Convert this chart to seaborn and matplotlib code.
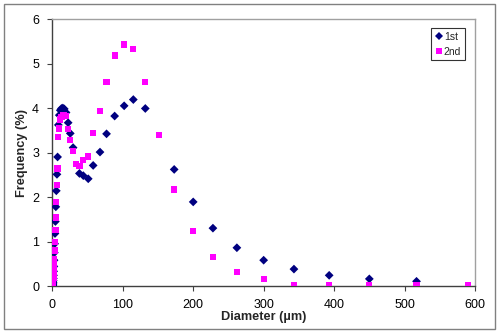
import matplotlib
matplotlib.use("Agg")
import matplotlib.pyplot as plt
import seaborn as sns
import pandas as pd
from matplotlib.patches import Rectangle

# Particle size bins (µm) and frequencies (%)
diam_1st = [0.64, 0.74, 0.85, 0.97, 1.1, 1.3, 1.5, 1.7, 1.9, 2.2, 2.5, 2.9, 3.3, 3.8,
            4.4, 5.0, 5.7, 6.6, 7.5, 8.6, 9.9, 11.3, 13.0, 15.0, 17.0, 19.5, 22.5,
            25.5, 29.5, 38.5, 44.0, 51.0, 58.0, 67.7, 77.0, 88.5, 102.0, 115.0,
            132.0, 173.0, 200.0, 228.0, 262.0, 300.0, 343.0, 393.0, 450.0, 517.0]
freq_1st = [0.01, 0.02, 0.03, 0.05, 0.08, 0.12, 0.17, 0.24, 0.33, 0.44, 0.58, 0.75, 0.95, 1.18,
            1.45, 1.78, 2.14, 2.51, 2.90, 3.62, 3.84, 3.95, 3.99, 4.00, 3.98, 3.90, 3.67,
            3.43, 3.11, 2.53, 2.48, 2.41, 2.71, 3.01, 3.42, 3.82, 4.05, 4.19,
            3.99, 2.62, 1.89, 1.30, 0.86, 0.58, 0.38, 0.24, 0.16, 0.105]

diam_2nd = [0.64, 0.74, 0.85, 0.97, 1.1, 1.3, 1.5, 1.7, 1.9, 2.2, 2.5, 2.9, 3.3, 3.8,
            4.4, 5.0, 5.7, 6.6, 7.5, 8.6, 9.9, 11.3, 13.0, 15.0, 17.0, 19.5, 22.5,
            25.5, 29.5, 34.0, 38.5, 44.0, 51.0, 58.0, 67.7, 77.0, 88.5, 102.0, 115.0,
            132.0, 152.0, 173.0, 200.0, 228.0, 262.0, 300.0, 343.0, 393.0, 450.0, 517.0, 590.0]
freq_2nd = [0.01, 0.02, 0.03, 0.05, 0.07, 0.10, 0.14, 0.19, 0.26, 0.35, 0.46, 0.60, 0.80, 0.99,
            1.25, 1.54, 1.89, 2.27, 2.64, 3.35, 3.54, 3.74, 3.80, 3.84, 3.85, 3.82, 3.52,
            3.29, 3.03, 2.75, 2.69, 2.83, 2.91, 3.43, 3.94, 4.58, 5.18, 5.43, 5.33,
            4.58, 3.39, 2.17, 1.24, 0.65, 0.32, 0.15, 0.01, 0.01, 0.01, 0.01, 0.01]

series_names = ["1st", "2nd"]

df = pd.concat([
    pd.DataFrame({"Diameter": diam_1st, "Frequency": freq_1st, "Series": series_names[0]}),
    pd.DataFrame({"Diameter": diam_2nd, "Frequency": freq_2nd, "Series": series_names[1]}),
], ignore_index=True)

sns.set_theme(style="white")
plt.rcParams["font.family"] = ["Liberation Sans", "DejaVu Sans"]

fig = plt.figure(figsize=(5, 3.34), dpi=100)
fig.patch.set_facecolor("white")
ax = fig.add_axes([0.1046, 0.1437, 0.8454, 0.7993])

sns.scatterplot(data=df, x="Diameter", y="Frequency", hue="Series", style="Series",
                palette={"1st": "#000080", "2nd": "#FF00FF"},
                markers={"1st": "D", "2nd": "s"},
                hue_order=series_names, style_order=series_names,
                s=20, linewidth=0, ax=ax, zorder=3)

ax.set_xlim(0, 600)
ax.set_ylim(0, 6)
ax.set_xticks(range(0, 601, 100))
ax.set_yticks(range(0, 7, 1))
ax.tick_params(axis="both", which="both", direction="out", length=3.5, width=0.8,
               color="#404040", labelsize=9, colors="black",
               bottom=True, left=True)
ax.tick_params(axis="x", pad=6)
ax.tick_params(axis="y", pad=6)
for side in ["left", "bottom"]:
    ax.spines[side].set_color("#404040")
    ax.spines[side].set_linewidth(1.0)
for side in ["top", "right"]:
    ax.spines[side].set_color("#A0A0A0")
    ax.spines[side].set_linewidth(1.0)

ax.set_xlabel("Diameter (µm)", fontsize=9.2, fontweight="bold", labelpad=0)
ax.set_ylabel("Frequency (%)", fontsize=9.2, fontweight="bold", labelpad=3)

leg = ax.legend(loc="upper right", bbox_to_anchor=(0.976, 0.965), fontsize=7.5,
                frameon=True, fancybox=False, handletextpad=0.15, handlelength=0.7,
                borderpad=0.35, labelspacing=0.45, borderaxespad=0, markerscale=1.0)
leg.get_frame().set_edgecolor("black")
leg.get_frame().set_linewidth(0.8)

fig.patches.append(Rectangle((0.008, 0.015), 0.982, 0.973, transform=fig.transFigure,
                             fill=False, edgecolor="#808080", linewidth=1.0))

fig.savefig("out.png", dpi=100)
